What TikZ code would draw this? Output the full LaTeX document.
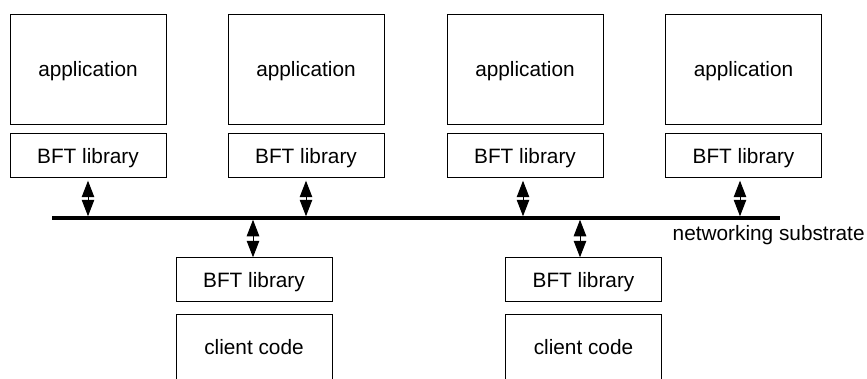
\documentclass[tikz,border=0pt]{standalone}
\usepackage{fontspec}
\setmainfont{Liberation Sans}
\usetikzlibrary{arrows.meta,calc}

\tikzset{
  box/.style={draw=black, line width=0.9pt, rectangle, inner sep=0pt,
              minimum width=156pt, font=\fontsize{20.8}{24}\selectfont},
  appbox/.style={box, minimum height=110pt, text height=18.4pt, text depth=4.4pt},
  libbox/.style={box, minimum height=43.5pt, text height=19.6pt, text depth=4.4pt},
  clientbox/.style={box, minimum height=110pt, text height=15pt, text depth=44pt},
  bus/.style={line width=3.5pt},
  link/.style={line width=1pt,
               {Triangle[width=12.5pt,length=16.5pt]}-{Triangle[width=12.5pt,length=16.5pt]}},
}

\begin{document}
\begin{tikzpicture}[x=1pt,y=-1pt]
  \clip (0,0) rectangle (867,378);

  % replica stacks on top
  \node[appbox] (app1) at (88,69)    {application};
  \node[appbox] (app2) at (306,69)   {application};
  \node[appbox] (app3) at (525,69)   {application};
  \node[appbox] (app4) at (743.5,69) {application};

  \node[libbox] (lib1) at (88,155.5)    {BFT library};
  \node[libbox] (lib2) at (306,155.5)   {BFT library};
  \node[libbox] (lib3) at (525,155.5)   {BFT library};
  \node[libbox] (lib4) at (743.5,155.5) {BFT library};

  % client stacks below
  \node[libbox] (clib1) at (254,279.5)   {BFT library};
  \node[libbox] (clib2) at (583.5,279.5) {BFT library};
  \node[clientbox] (cli1) at (254,369)   {client code};
  \node[clientbox] (cli2) at (583.5,369) {client code};

  % network bus
  \coordinate (busL) at (52,218);
  \coordinate (busR) at (780,218);
  \draw[bus] (busL) -- (busR);
  \node[anchor=base west, inner sep=0pt, font=\fontsize{20.8}{24}\selectfont]
    (net) at (672.5,240.5) {networking substrate};

  % replica links
  \draw[link, shorten <=3pt, shorten >=1.75pt] (lib1.south) -- (lib1.south |- busL);
  \draw[link, shorten <=3pt, shorten >=1.75pt] (lib2.south) -- (lib2.south |- busL);
  \draw[link, shorten <=3pt, shorten >=1.75pt] ([xshift=-2pt]lib3.south) -- ([xshift=-2pt]lib3.south |- busL);
  \draw[link, shorten <=3pt, shorten >=1.75pt] ([xshift=-3.5pt]lib4.south) -- ([xshift=-3.5pt]lib4.south |- busL);

  % client links
  \draw[link, shorten <=1.75pt] ([xshift=-1pt]clib1.north |- busL) -- ([xshift=-1pt]clib1.north);
  \draw[link, shorten <=1.75pt] ([xshift=-3.5pt]clib2.north |- busL) -- ([xshift=-3.5pt]clib2.north);
\end{tikzpicture}
\end{document}
